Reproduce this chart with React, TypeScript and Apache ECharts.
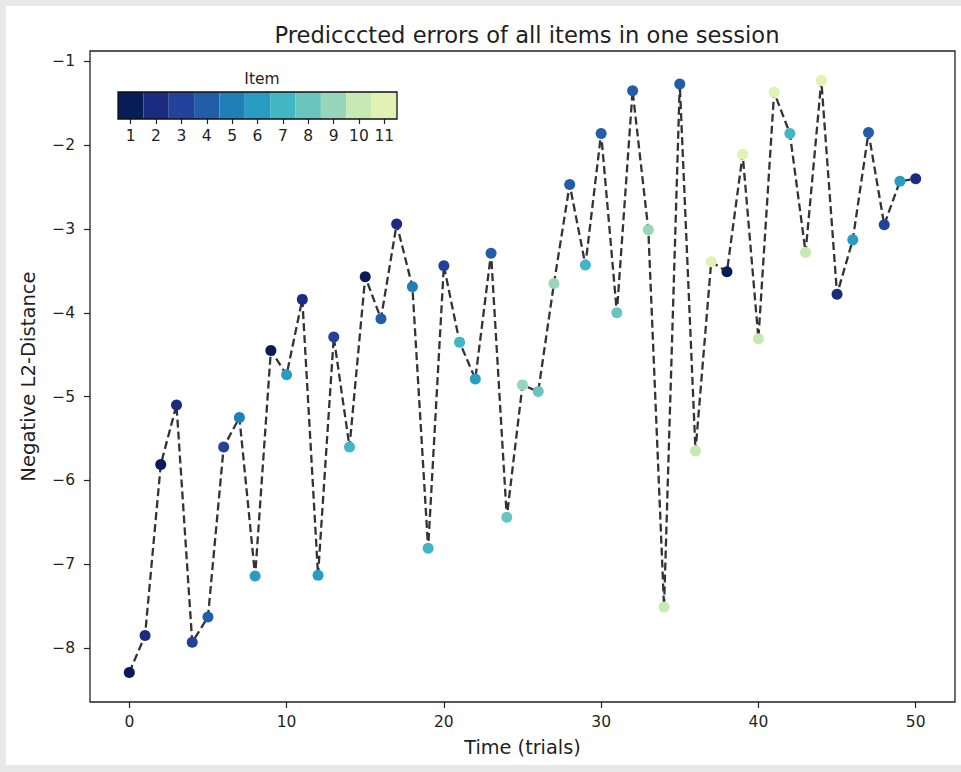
import React, { useEffect, useRef } from 'react';
import * as echarts from 'echarts';

const trials = [0, 1, 2, 3, 4, 5, 6, 7, 8, 9, 10, 11, 12, 13, 14, 15, 16, 17, 18, 19, 20, 21, 22, 23, 24, 25, 26, 27, 28, 29, 30, 31, 32, 33, 34, 35, 36, 37, 38, 39, 40, 41, 42, 43, 44, 45, 46, 47, 48, 49, 50];
const distances = [-8.29, -7.85, -5.81, -5.10, -7.93, -7.63, -5.60, -5.25, -7.14, -4.45, -4.74, -3.84, -7.13, -4.29, -5.60, -3.57, -4.07, -2.94, -3.69, -6.81, -3.44, -4.35, -4.79, -3.29, -6.44, -4.86, -4.94, -3.65, -2.47, -3.43, -1.86, -4.00, -1.35, -3.01, -7.51, -1.27, -5.65, -3.39, -3.51, -2.11, -4.31, -1.37, -1.86, -3.28, -1.23, -3.78, -3.13, -1.85, -2.95, -2.43, -2.40];
const itemIds = [1, 2, 1, 2, 3, 4, 3, 5, 6, 1, 6, 2, 6, 3, 7, 1, 4, 2, 5, 7, 3, 7, 6, 4, 8, 9, 8, 9, 4, 7, 4, 8, 4, 9, 10, 4, 10, 11, 1, 11, 10, 11, 7, 10, 11, 2, 6, 4, 3, 6, 2];
const itemLabels = ['1', '2', '3', '4', '5', '6', '7', '8', '9', '10', '11'];
const colorbarCells = [1, 1, 1, 1, 1, 1, 1, 1, 1, 1, 1];
const xTicks = [0, 10, 20, 30, 40, 50];
const yTicks = [-8, -7, -6, -5, -4, -3, -2, -1];
const palette = ['#081d58', '#1b2c80', '#24429b', '#225ea8', '#1f80b8', '#299dc1', '#41b6c4', '#6ac5be', '#97d6b9', '#c7e9b4', '#e0f3b2'];

const FONT = 'DejaVu Sans';
const INK = '#1f1f1f';

export default function App() {
  const ref = useRef<HTMLDivElement>(null);
  useEffect(() => {
    const chart = echarts.init(ref.current!, null, { renderer: 'svg' });
    const yMin = Math.min(...distances);
    const yMax = Math.max(...distances);
    const yPad = (yMax - yMin) * 0.05;
    const xFirst = trials[0];
    const xLast = trials[trials.length - 1];
    const xPad = (xLast - xFirst) * 0.05;
    const fmt = (v: number) => (v < 0 ? '\u2212' + Math.abs(v) : String(v));
    chart.setOption({
      animation: false,
      textStyle: { fontFamily: FONT },
      title: [
        {
          text: 'Predicccted errors of all items in one session',
          left: 522,
          top: 18,
          textAlign: 'center',
          textStyle: { fontSize: 22.6, fontWeight: 'normal', color: INK, fontFamily: FONT },
        },
        {
          text: 'Item',
          left: 257,
          top: 66,
          textAlign: 'center',
          textStyle: { fontSize: 15.5, fontWeight: 'normal', color: INK, fontFamily: FONT },
        },
      ],
      grid: [
        { left: 90, top: 51, right: 6, bottom: 70, show: true, borderColor: '#222', borderWidth: 1.3, backgroundColor: 'transparent' },
        { left: 118, top: 92, width: 279, height: 27, show: true, borderColor: '#111', borderWidth: 1.3, backgroundColor: 'transparent', z: 5 },
      ],
      xAxis: [
        {
          type: 'value',
          gridIndex: 0,
          min: xFirst - xPad,
          max: xLast + xPad,
          axisLine: { show: false, onZero: false },
          splitLine: { show: false },
          axisTick: { show: true, customValues: xTicks, length: 6, lineStyle: { color: '#222', width: 1.2 } },
          axisLabel: { customValues: xTicks, margin: 12, fontSize: 15.5, color: INK, fontFamily: FONT, formatter: fmt },
          name: 'Time (trials)',
          nameLocation: 'middle',
          nameGap: 36,
          nameTextStyle: { fontSize: 19.3, color: INK, fontFamily: FONT },
        },
        {
          type: 'category',
          gridIndex: 1,
          data: itemLabels,
          axisLine: { show: false, onZero: false },
          splitLine: { show: false },
          axisTick: { show: true, alignWithLabel: true, length: 5, lineStyle: { color: '#222', width: 1.2 } },
          axisLabel: { margin: 9, fontSize: 15.5, color: INK, fontFamily: FONT, interval: 0 },
        },
      ],
      yAxis: [
        {
          type: 'value',
          gridIndex: 0,
          min: yMin - yPad,
          max: yMax + yPad,
          axisLine: { show: false, onZero: false },
          splitLine: { show: false },
          axisTick: { show: true, customValues: yTicks, length: 6, lineStyle: { color: '#222', width: 1.2 } },
          axisLabel: { customValues: yTicks, margin: 15, fontSize: 15.5, color: INK, fontFamily: FONT, formatter: fmt },
          name: 'Negative L2-Distance',
          nameLocation: 'middle',
          nameGap: 52,
          nameTextStyle: { fontSize: 19.6, color: INK, fontFamily: FONT },
        },
        { type: 'value', gridIndex: 1, min: 0, max: 1, show: false },
      ],
      series: [
        {
          type: 'line',
          xAxisIndex: 0,
          yAxisIndex: 0,
          data: trials.map((t, i) => [t, distances[i]]),
          symbol: 'none',
          lineStyle: { color: '#333', width: 2.3, type: [8, 4] },
          z: 2,
          silent: true,
        },
        {
          type: 'scatter',
          xAxisIndex: 0,
          yAxisIndex: 0,
          data: trials.map((t, i) => ({ value: [t, distances[i]], itemStyle: { color: palette[itemIds[i] - 1], opacity: 1 } })),
          symbol: 'circle',
          symbolSize: 11,
          itemStyle: { opacity: 1 },
          z: 3,
          silent: true,
        },
        {
          type: 'bar',
          xAxisIndex: 1,
          yAxisIndex: 1,
          data: colorbarCells.map((v, i) => ({ value: v, itemStyle: { color: palette[i] } })),
          barCategoryGap: '0%',
          barWidth: '100%',
          z: 1,
          silent: true,
        },
      ],
    });
    return () => chart.dispose();
  }, []);

  return (
    <div style={{ position: 'fixed', left: 0, top: 0, width: 961, height: 772, background: '#e8e8e8', overflow: 'hidden' }}>
      <div style={{ position: 'absolute', left: 6, top: 6, width: 955, height: 759, background: '#ffffff' }} />
      <div ref={ref} style={{ position: 'absolute', left: 0, top: 0, width: 961, height: 772 }} />
    </div>
  );
}
